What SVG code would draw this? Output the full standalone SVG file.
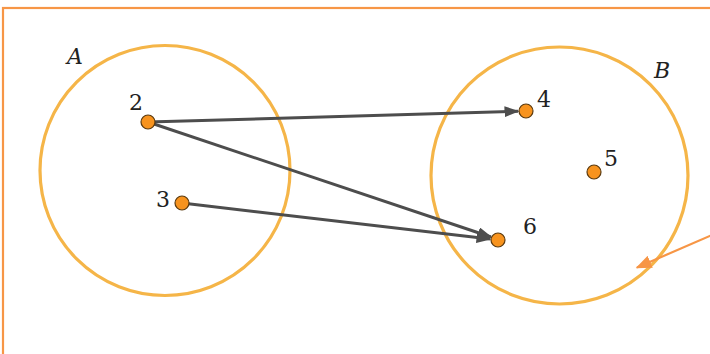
<svg xmlns="http://www.w3.org/2000/svg" width="710" height="354" viewBox="0 0 710 354">
<style>
.set{fill:none;stroke:#F5B548;stroke-width:3.2}
.pt{fill:#F7931E;stroke:#5a3a10;stroke-width:1.2}
.con{stroke:#4d4d4d;stroke-width:3;fill:none}
</style>
<defs>
<marker id="ah" viewBox="0 0 10 10" refX="9" refY="5" markerWidth="15" markerHeight="11" markerUnits="userSpaceOnUse" orient="auto" preserveAspectRatio="none">
<path d="M0,0 L10,5 L0,10 z" fill="#4d4d4d"/>
</marker>
<marker id="oh" viewBox="0 0 10 10" refX="9" refY="5" markerWidth="16" markerHeight="13" markerUnits="userSpaceOnUse" orient="auto" preserveAspectRatio="none">
<path d="M0,0 L10,5 L0,10 z" fill="#F79646"/>
</marker>
</defs>
<rect width="710" height="354" fill="#fff"/>
<rect x="3" y="8" width="720" height="360" fill="none" stroke="#F79646" stroke-width="2.2"/>
<g font-family="DejaVu Serif, serif" font-size="22" fill="#222">
<g id="setA">
<circle class="set" cx="165" cy="170.5" r="125"/>
<text font-style="italic" x="67" y="64">A</text>
</g>
<g id="setB">
<circle class="set" cx="559.5" cy="175.5" r="128.5"/>
<text font-style="italic" x="654" y="78">B</text>
</g>
<g id="connectors">
<line class="con" x1="148" y1="122" x2="518" y2="111.3" marker-end="url(#ah)"/>
<line class="con" x1="148" y1="122" x2="491" y2="237" marker-end="url(#ah)"/>
<line class="con" x1="182" y1="203" x2="490" y2="239" marker-end="url(#ah)"/>
<line x1="712" y1="235" x2="637" y2="267.5" stroke="#F79646" stroke-width="2.2" marker-end="url(#oh)"/>
</g>
<g id="n2"><circle class="pt" cx="148" cy="122" r="7"/><text x="129" y="110">2</text></g>
<g id="n3"><circle class="pt" cx="182" cy="203" r="7"/><text x="156" y="207">3</text></g>
<g id="n4"><circle class="pt" cx="526" cy="111" r="7"/><text x="537" y="107">4</text></g>
<g id="n5"><circle class="pt" cx="594" cy="172" r="7"/><text x="604" y="166">5</text></g>
<g id="n6"><circle class="pt" cx="498" cy="240" r="7"/><text x="523" y="234">6</text></g>
</g>
</svg>
